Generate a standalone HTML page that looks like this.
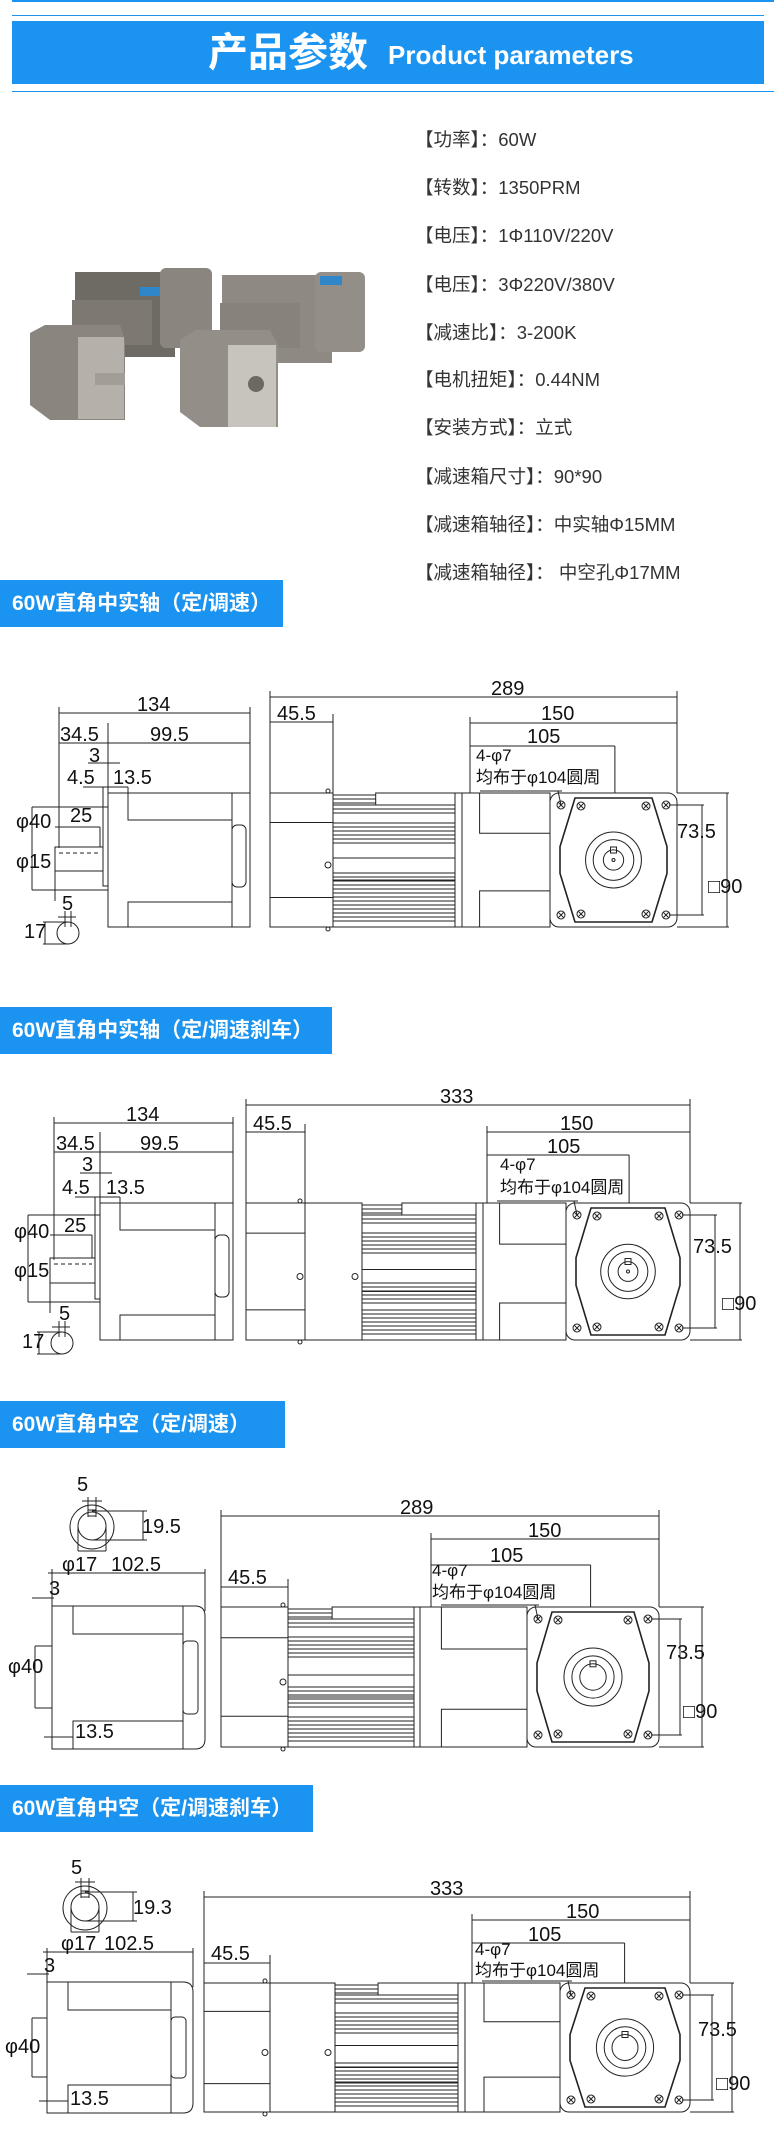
<!DOCTYPE html>
<html><head><meta charset="utf-8"><style>
html,body{margin:0;padding:0;background:#fff;}
body{width:774px;height:2148px;position:relative;overflow:hidden;font-family:"Liberation Sans","Noto Sans CJK SC",sans-serif;}
.spec{position:absolute;left:415px;font-size:18.5px;color:#333;white-space:nowrap;}
.hd{position:absolute;left:0;background:#1b93f0;color:#fff;font-weight:bold;font-size:21px;line-height:47px;height:47px;padding-left:12px;box-sizing:border-box;white-space:nowrap;}
svg{position:absolute;left:0;top:0;}
svg text{font-family:"Liberation Sans Narrow","Liberation Sans","Noto Sans CJK SC",sans-serif;fill:#111;}
</style></head><body>
<div style="position:absolute;left:12px;top:0;width:762px;height:2px;background:#1b93f0"></div>
<div style="position:absolute;left:12px;top:15px;width:752px;height:1px;background:#1b93f0"></div>
<div style="position:absolute;left:12px;top:21px;width:752px;height:63px;background:#1b93f0"></div>
<div style="position:absolute;left:12px;top:91px;width:762px;height:1px;background:#1b93f0"></div>
<div style="position:absolute;left:208px;top:28px;color:#fff;font-weight:bold;font-size:40px;line-height:50px;font-family:'Liberation Sans','Noto Sans CJK SC',sans-serif">产品参数</div>
<div style="position:absolute;left:388px;top:38px;color:#fff;font-weight:bold;font-size:26px;line-height:34px;">Product parameters</div>
<div class="spec" style="top:126px">【功率】：60W</div>
<div class="spec" style="top:174px">【转数】：1350PRM</div>
<div class="spec" style="top:222px">【电压】：1Φ110V/220V</div>
<div class="spec" style="top:271px">【电压】：3Φ220V/380V</div>
<div class="spec" style="top:319px">【减速比】：3-200K</div>
<div class="spec" style="top:366px">【电机扭矩】：0.44NM</div>
<div class="spec" style="top:414px">【安装方式】：立式</div>
<div class="spec" style="top:463px">【减速箱尺寸】：90*90</div>
<div class="spec" style="top:511px">【减速箱轴径】：中实轴Φ15MM</div>
<div class="spec" style="top:559px">【减速箱轴径】： 中空孔Φ17MM</div>
<div class="hd" style="top:580px;width:283px">60W直角中实轴（定/调速）</div>
<div class="hd" style="top:1007px;width:332px">60W直角中实轴（定/调速刹车）</div>
<div class="hd" style="top:1401px;width:285px">60W直角中空（定/调速）</div>
<div class="hd" style="top:1785px;width:313px">60W直角中空（定/调速刹车）</div>

<svg width="774" height="2148" viewBox="0 0 774 2148" xmlns="http://www.w3.org/2000/svg">
<g>
<rect x="75" y="272" width="100" height="85" fill="#6e6a64"/>
<rect x="160" y="268" width="52" height="80" rx="6" fill="#8a857e"/>
<rect x="72" y="300" width="80" height="45" fill="#7d7871"/>
<rect x="140" y="287" width="20" height="9" fill="#2f86c8"/>
<path d="M30 333 L45 325 L120 325 L125 340 L125 420 L50 420 L30 405 Z" fill="#8a857e"/>
<rect x="78" y="337" width="46" height="82" fill="#b5b1aa"/>
<rect x="95" y="373" width="30" height="12" fill="#a29e97"/>
<rect x="222" y="275" width="110" height="88" fill="#8e8982"/>
<rect x="315" y="272" width="50" height="80" rx="6" fill="#938e87"/>
<rect x="220" y="303" width="80" height="45" fill="#87827b"/>
<rect x="320" y="276" width="22" height="9" fill="#2f86c8"/>
<path d="M180 340 L195 330 L270 330 L278 345 L278 427 L200 427 L180 412 Z" fill="#938e87"/>
<rect x="228" y="345" width="48" height="82" fill="#c7c3bd"/>
<circle cx="256" cy="384" r="8" fill="#6d6861"/>
</g>
<g id="dr" stroke="#222" stroke-width="1" fill="none"></g>
<g font-size="20">
<text x="137" y="711">134</text><text x="60" y="741">34.5</text><text x="150" y="741">99.5</text>
<text x="89" y="762">3</text><text x="67" y="784">4.5</text><text x="113" y="784">13.5</text>
<text x="70" y="822">25</text><text x="16" y="828">φ40</text><text x="16" y="868">φ15</text>
<text x="62" y="910">5</text><text x="24" y="938">17</text>
<text x="491" y="695">289</text><text x="277" y="720">45.5</text><text x="541" y="720">150</text><text x="527" y="743">105</text>
<text x="677" y="838">73.5</text><text x="708" y="893">□90</text>
<text x="476" y="761" font-size="17">4-φ7</text><text x="476" y="783" font-size="17">均布于φ104圆周</text>
</g>
<g font-size="20">
<text x="126" y="1121">134</text><text x="56" y="1150">34.5</text><text x="140" y="1150">99.5</text>
<text x="82" y="1171">3</text><text x="62" y="1194">4.5</text><text x="106" y="1194">13.5</text>
<text x="64" y="1232">25</text><text x="14" y="1238">φ40</text><text x="14" y="1277">φ15</text>
<text x="59" y="1320">5</text><text x="22" y="1348">17</text>
<text x="440" y="1103">333</text><text x="253" y="1130">45.5</text><text x="560" y="1130">150</text><text x="547" y="1153">105</text>
<text x="693" y="1253">73.5</text><text x="722" y="1310">□90</text>
<text x="500" y="1170" font-size="17">4-φ7</text><text x="500" y="1193" font-size="17">均布于φ104圆周</text>
</g>
<g font-size="20">
<text x="77" y="1491">5</text><text x="142" y="1533">19.5</text>
<text x="62" y="1571">φ17</text><text x="111" y="1571">102.5</text>
<text x="49" y="1595">3</text><text x="8" y="1673">φ40</text><text x="75" y="1738">13.5</text>
<text x="400" y="1514">289</text><text x="228" y="1584">45.5</text><text x="528" y="1537">150</text><text x="490" y="1562">105</text>
<text x="666" y="1659">73.5</text><text x="683" y="1718">□90</text>
<text x="432" y="1576" font-size="17">4-φ7</text><text x="432" y="1598" font-size="17">均布于φ104圆周</text>
</g>
<g font-size="20">
<text x="71" y="1874">5</text><text x="133" y="1914">19.3</text>
<text x="61" y="1950">φ17</text><text x="104" y="1950">102.5</text>
<text x="44" y="1972">3</text><text x="5" y="2053">φ40</text><text x="70" y="2105">13.5</text>
<text x="430" y="1895">333</text><text x="211" y="1960">45.5</text><text x="566" y="1918">150</text><text x="528" y="1941">105</text>
<text x="698" y="2036">73.5</text><text x="716" y="2090">□90</text>
<text x="475" y="1955" font-size="17">4-φ7</text><text x="475" y="1976" font-size="17">均布于φ104圆周</text>
</g>
</svg>
<script>
(function(){
var g=document.getElementById('dr'),s='';
function L(a,b,c,d,ex){s+='<line x1="'+a+'" y1="'+b+'" x2="'+c+'" y2="'+d+'"'+(ex||'')+'/>';}
function R(x,y,w,h,rx){s+='<rect x="'+x+'" y="'+y+'" width="'+w+'" height="'+h+'" rx="'+(rx||0)+'"/>';}
function C(x,y,r){s+='<circle cx="'+x+'" cy="'+y+'" r="'+r+'"/>';}
function HX(x,y){C(x,y,4);L(x-3,y-3,x+3,y+3);L(x-3,y+3,x+3,y-3);}
function motor(o){
 var t=o.top,b=o.bot,H=b-t,m=(t+b)/2;
 R(o.x0,t,o.x1-o.x0,H);L(o.x0,t+H*0.22,o.x1,t+H*0.22);L(o.x0,b-H*0.22,o.x1,b-H*0.22);
 C(o.x1-5,t-2,2);C(o.x1-5,b+2,2);C(o.x1-5,m+5,3);
 var fa=o.x1;
 if(o.br){R(o.x1,t,o.br-o.x1,H);C(o.br-7,m+5,3);fa=o.br;}
 var fb=o.fe;
 R(fa,t+12,fb-fa,H-12);
 R(fa+(fb-fa)*0.35,t,(fb-fa)*0.65,12);
 for(var y=t+2;y<t+12;y+=4)L(fa,y,fa+(fb-fa)*0.35,y);
 var bands=[[t+16,t+22],[t+30,t+52],[t+80,t+100],[b-30,b-6]];
 bands.forEach(function(q){for(var y=q[0];y<=q[1];y+=4)L(fa,y,fb,y);});
 L(fa,m-2,fb,m-2);L(fa,m+20,fb,m+20);
 R(fb,t,o.pe-fb,H);
 var gw=o.ge-o.pe;R(o.pe,t,gw,H);
 s+='<polyline points="'+o.ge+','+(t+H*0.3)+' '+(o.pe+gw*0.2)+','+(t+H*0.3)+' '+(o.pe+gw*0.2)+','+t+'"/>';
 s+='<polyline points="'+o.ge+','+(b-H*0.27)+' '+(o.pe+gw*0.2)+','+(b-H*0.27)+' '+(o.pe+gw*0.2)+','+b+'"/>';
 var x=o.ge,e=o.fe2,W=e-x,cx=(x+e)/2,cy=m;
 R(x,t,W,H,9);
 s+='<path stroke-width="1.6" d="M'+(x+25)+' '+(t+5)+' L'+(e-25)+' '+(t+5)+' L'+(e-10)+' '+(t+H*0.4)+' L'+(e-10)+' '+(b-H*0.4)+' L'+(e-25)+' '+(b-5)+' L'+(x+25)+' '+(b-5)+' L'+(x+10)+' '+(b-H*0.4)+' L'+(x+10)+' '+(t+H*0.4)+' Z"/>';
 HX(x+11,t+12);HX(e-11,t+12);HX(x+11,b-12);HX(e-11,b-12);
 HX(x+31,t+13);HX(e-31,t+13);HX(x+31,b-13);HX(e-31,b-13);
 C(cx,cy,W*0.22);C(cx,cy,W*0.16);C(cx,cy,W*(o.hol?0.1:0.08));
 if(!o.hol){R(cx-3,cy-13,6,6);C(cx,cy,1.5);}else{R(cx-3,cy-W*0.1-3,6,6);}
 L(e-8,t+12,o.d1+2,t+12);L(e-8,b-12,o.d1+2,b-12);L(o.d1,t+12,o.d1,b-12);
 L(e,t,o.d2+2,t);L(e,b,o.d2+2,b);L(o.d2,t,o.d2,b);
}
function dims(o){
 L(o.x0,o.y289,o.e,o.y289);L(o.x0,o.y289-6,o.x0,o.top);L(o.e,o.y289-6,o.e,o.top);
 L(o.x0,o.y45,o.x1,o.y45);L(o.x1,o.y45-8,o.x1,o.top);
 L(o.pe,o.y150,o.e,o.y150);L(o.pe,o.y150-6,o.pe,o.top);
 var q=o.pe+(o.e-o.pe)*0.7;
 L(o.pe,o.y105,q,o.y105);L(q,o.y105,q,o.top);
 L(o.pe+10,o.top-2,o.ge+12,o.top-2);L(o.ge+8,o.top-2,o.ge+11,o.top+12);
}
function shaftL(o){
 var t=o.t,b=o.b;
 L(o.a,o.y134,o.e,o.y134);L(o.a,o.y134-6,o.a,o.y345+4);L(o.e,o.y134-6,o.e,t);
 L(o.a,o.y345,o.e,o.y345);L(o.a,o.y345,o.a,o.sb);L(o.p,o.y345-20,o.p,t);
 L(o.p-20,o.y3,o.p+12,o.y3);L(o.p-25,o.y45,o.p+20,o.y45);L(o.p+20,o.y45,o.p+20,t);
 R(o.p,t,o.e-o.p,b-t);L(o.e-18,t,o.e-18,b);
 s+='<polyline points="'+(o.e-18)+','+(t+27)+' '+(o.p+20)+','+(t+27)+' '+(o.p+20)+','+t+'"/>';
 s+='<polyline points="'+(o.e-18)+','+(b-25)+' '+(o.p+20)+','+(b-25)+' '+(o.p+20)+','+b+'"/>';
 R(o.e-18,t+32,14,62,5);
 R(o.p-5,t-6,5,b-t-35);
 R(o.a-4,o.s1,o.p-5-o.a+4,o.s2-o.s1);L(o.a,o.s1+6,o.p-8,o.s1+6,' stroke-dasharray="4,3"');
 L(o.x40,o.f1,o.p,o.f1);L(o.x40,o.f2,o.p,o.f2);L(o.x40,o.f1,o.x40,o.f2);
 L(o.a-4,o.f1+20,o.p-8,o.f1+20);L(o.p-8,o.f1+20,o.p-8,o.s1);
 L(o.a-4,o.s2,o.a-4,o.s2+30);
 C(o.kx,o.ky,11);L(o.kx-3,o.ky-22,o.kx-3,o.ky-6);L(o.kx+3,o.ky-22,o.kx+3,o.ky-6);L(o.kx-10,o.ky-16,o.kx+8,o.ky-16);
 L(o.kx-23,o.ky-11,o.kx-23,o.ky+11);L(o.kx-25,o.ky-11,o.kx,o.ky-11);L(o.kx-25,o.ky+11,o.kx,o.ky+11);
}
function holL(o){
 var t=o.t,b=o.b;
 C(o.kx,o.ky,22);C(o.kx,o.ky-1,14);R(o.kx-4,o.ky-17,8,6);
 L(o.kx-4,o.ky-30,o.kx-4,o.ky-10);L(o.kx+4,o.ky-30,o.kx+4,o.ky-10);L(o.kx-10,o.ky-26,o.kx+10,o.ky-26);
 L(o.kx,o.ky-16,o.r19+4,o.ky-16);L(o.kx,o.ky+13,o.r19+4,o.ky+13);L(o.r19,o.ky-16,o.r19,o.ky+13);
 L(o.kx-14,o.ky,o.kx-14,o.ky+24);L(o.kx+14,o.ky,o.kx+14,o.ky+24);L(o.kx-14,o.ky+24,o.kx+14,o.ky+24);
 L(o.a-4,o.y102,o.e,o.y102);L(o.a,o.y102-4,o.a,b);L(o.e,o.y102-4,o.e,t+5);
 L(o.a-20,o.y3,o.a+2,o.y3);
 s+='<path d="M'+o.a+' '+t+' L'+(o.e-10)+' '+t+' Q'+o.e+' '+t+' '+o.e+' '+(t+10)+' L'+o.e+' '+(b-10)+' Q'+o.e+' '+b+' '+(o.e-10)+' '+b+' L'+o.a+' '+b+' Z"/>';
 L(o.e-22,t,o.e-22,b);
 s+='<polyline points="'+(o.e-22)+','+(t+28)+' '+(o.a+21)+','+(t+28)+' '+(o.a+21)+','+t+'"/>';
 s+='<polyline points="'+(o.e-22)+','+(b-28)+' '+(o.a+21)+','+(b-28)+' '+(o.a+21)+','+b+'"/>';
 R(o.e-22,t+35,15,b-t-70,4);
 L(o.x40,o.f1,o.a,o.f1);L(o.x40,o.f2,o.a,o.f2);L(o.x40,o.f1,o.x40,o.f2);
 L(o.a-8,b-12,o.a+21,b-12);
}
motor({x0:270,x1:333,fe:455,pe:462,ge:550,fe2:677,top:793,bot:927,d1:702,d2:727});
dims({x0:270,x1:333,pe:470,ge:550,e:677,top:793,y289:697,y45:722,y150:723,y105:746});
shaftL({a:59,e:250,p:108,t:793,b:927,y134:713,y345:743,y3:763,y45:787,sb:848,s1:847,s2:871,x40:32,f1:807,f2:890,kx:68,ky:933});
motor({x0:246,x1:305,br:362,fe:476,pe:483,ge:566,fe2:690,top:1203,bot:1340,d1:715,d2:740});
dims({x0:246,x1:305,pe:487,ge:566,e:690,top:1203,y289:1105,y45:1132,y150:1132,y105:1155});
shaftL({a:54,e:233,p:100,t:1203,b:1340,y134:1123,y345:1152,y3:1173,y45:1197,sb:1260,s1:1258,s2:1283,x40:28,f1:1215,f2:1302,kx:62,ky:1343});
holL({a:52,e:205,t:1606,b:1749,kx:92,ky:1527,r19:143,y102:1573,y3:1598,x40:35,f1:1646,f2:1708});
motor({x0:221,x1:288,fe:414,pe:420,ge:527,fe2:659,top:1607,bot:1747,d1:680,d2:702,hol:1});
dims({x0:221,x1:288,pe:431,ge:527,e:659,top:1607,y289:1516,y45:1587,y150:1539,y105:1565});
holL({a:47,e:193,t:1982,b:2113,kx:85,ky:1908,r19:133,y102:1952,y3:1974,x40:32,f1:2018,f2:2077});
motor({x0:204,x1:270,br:335,fe:458,pe:465,ge:560,fe2:690,top:1983,bot:2112,d1:712,d2:732,hol:1});
dims({x0:204,x1:270,pe:472,ge:560,e:690,top:1983,y289:1897,y45:1963,y150:1920,y105:1943});
g.innerHTML=s;
})();
</script>
</body></html>
